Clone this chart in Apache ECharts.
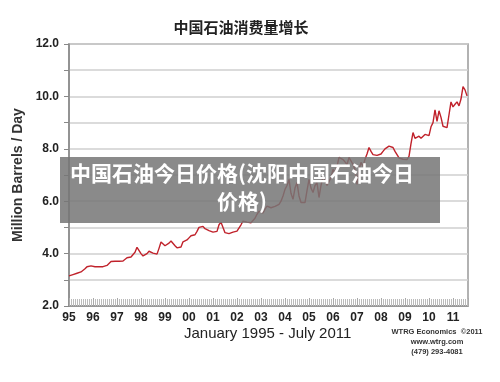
<!DOCTYPE html>
<html>
<head>
<meta charset="utf-8">
<script src="https://cdn.jsdelivr.net/npm/echarts@6/dist/echarts.min.js"></script>
<style>html,body{margin:0;padding:0;background:#fff;}#c{width:500px;height:382px;}</style>
</head>
<body>
<div id="c"></div>
<script>
// Monthly index from January 1995 (0) onward
var yearLabels = ['95','96','97','98','99','00','01','02','03','04','05','06','07','08','09','10','11'];
var yTickLabels = ['2.0','4.0','6.0','8.0','10.0','12.0'];
var consumption = [
  // 1995
  3.15,3.18,3.20,3.22,3.25,3.28,3.30,3.35,3.42,3.50,3.52,3.53,
  // 1996
  3.52,3.50,3.50,3.50,3.52,3.50,3.50,3.55,3.62,3.70,3.72,3.71,
  // 1997
  3.72,3.71,3.70,3.72,3.78,3.84,3.86,3.87,3.90,4.05,4.24,4.22,
  // 1998
  4.00,3.91,3.92,4.00,4.09,4.08,4.02,3.98,3.98,4.20,4.44,4.40,
  // 1999
  4.30,4.29,4.40,4.48,4.45,4.30,4.22,4.20,4.25,4.45,4.52,4.52,
  // 2000
  4.60,4.68,4.70,4.72,4.85,5.00,5.05,5.04,4.95,4.90,4.88,4.85,
  // 2001
  4.82,4.81,4.85,5.10,5.20,5.15,4.80,4.74,4.76,4.80,4.82,4.85,
  // 2002
  4.86,4.87,5.10,5.24,5.22,5.20,5.18,5.18,5.20,5.35,5.50,5.62,
  // 2003
  5.58,5.55,5.70,5.81,5.78,5.75,5.76,5.80,5.85,5.88,6.00,6.20,
  // 2004
  6.45,6.60,6.83,6.30,6.07,6.50,6.71,6.20,5.95,5.93,5.95,6.40,
  // 2005
  6.83,6.50,6.33,6.60,6.71,6.14,6.60,6.95,6.80,6.60,6.57,6.90,
  // 2006
  7.21,7.10,7.33,7.67,7.60,7.59,7.50,7.40,7.67,7.60,7.40,7.21,
  // 2007
  6.64,7.20,7.48,7.33,7.60,7.80,8.05,7.90,7.78,7.85,7.75,7.70,
  // 2008
  7.80,7.90,8.00,8.05,8.10,8.10,8.05,7.90,7.78,7.65,7.59,7.60,
  // 2009
  7.58,7.59,7.71,8.20,8.62,8.40,8.35,8.48,8.40,8.43,8.55,8.62,
  // 2010
  8.50,8.84,9.00,9.49,9.05,9.45,9.20,8.86,8.85,8.81,9.30,9.79,
  // 2011
  9.60,9.70,9.79,9.64,9.90,10.37,10.25,10.02
];

var seriesData = consumption.map(function (v, i) { return [i, v]; });

var chart = echarts.init(document.getElementById('c'), null, {renderer: 'canvas'});
chart.setOption({
  backgroundColor: '#ffffff',
  animation: false,
  title: {
    text: '中国石油消费量增长',
    left: 236, top: 15, textAlign: 'center',
    textStyle: {fontSize: 15, fontWeight: 'bold', color: '#222', fontFamily: 'Noto Sans CJK SC'}
  },
  grid: {
    left: 69, right: 32, top: 44, bottom: 76,
    show: true, borderColor: '#999', borderWidth: 1.5
  },
  xAxis: {
    type: 'value', min: 0, max: 199.5, interval: 12,
    axisLine: {show: true, lineStyle: {color: '#888', width: 1.5}},
    axisTick: {show: true, inside: true, length: 8, lineStyle: {color: '#aaa'}},
    minorTick: {show: true, splitNumber: 12, length: 7, lineStyle: {color: '#bbb'}},
    splitLine: {show: false},
    axisLabel: {
      margin: 6, fontSize: 12, fontWeight: 'bold', color: '#222', fontFamily: 'Liberation Sans',
      showMaxLabel: false,
      formatter: function (v) { var k = Math.round(v / 12); return (v % 12 === 0 && yearLabels[k]) ? yearLabels[k] : ''; }
    }
  },
  yAxis: {
    type: 'value', min: 2, max: 12, interval: 1,
    name: 'Million Barrels / Day', nameLocation: 'middle', nameGap: 37, nameRotate: 90,
    nameTextStyle: {fontSize: 14, fontWeight: 'bold', color: '#333', fontFamily: 'Liberation Sans'},
    axisLine: {show: true, lineStyle: {color: '#888', width: 1.5}},
    axisTick: {show: true, length: 5, lineStyle: {color: '#888'}},
    splitLine: {show: true, lineStyle: {color: '#cfcfcf', width: 1.5}},
    axisLabel: {
      margin: 10, fontSize: 12, fontWeight: 'bold', color: '#222', fontFamily: 'Liberation Sans',
      formatter: function (v) { return (v % 2 === 0) ? yTickLabels[(v - 2) / 2] : ''; }
    }
  },
  series: [{
    type: 'line', data: seriesData, showSymbol: false, symbol: 'none',
    lineStyle: {color: '#c0222b', width: 1.4}
  }],
  graphic: [
    {type: 'text', left: 184, top: 326, style: {text: 'January 1995 - July 2011', fontSize: 15, fill: '#222', font: '15px "Liberation Sans"'}},
    {type: 'text', x: 437, y: 327, style: {text: 'WTRG Economics  ©2011\nwww.wtrg.com\n(479) 293-4081', textAlign: 'center', fill: '#333', font: 'bold 7.5px "Liberation Sans"', lineHeight: 10}},
    {type: 'rect', shape: {x: 60, y: 157, width: 380, height: 66}, style: {fill: 'rgba(118,118,118,0.85)'}, z: 100},
    {type: 'text', x: 242, y: 159, z: 101, style: {text: '中国石油今日价格(沈阳中国石油今日\n价格)', textAlign: 'center', fill: '#fff', font: 'bold 21px "Noto Sans CJK SC"', lineHeight: 28}}
  ]
});
</script>
</body>
</html>
